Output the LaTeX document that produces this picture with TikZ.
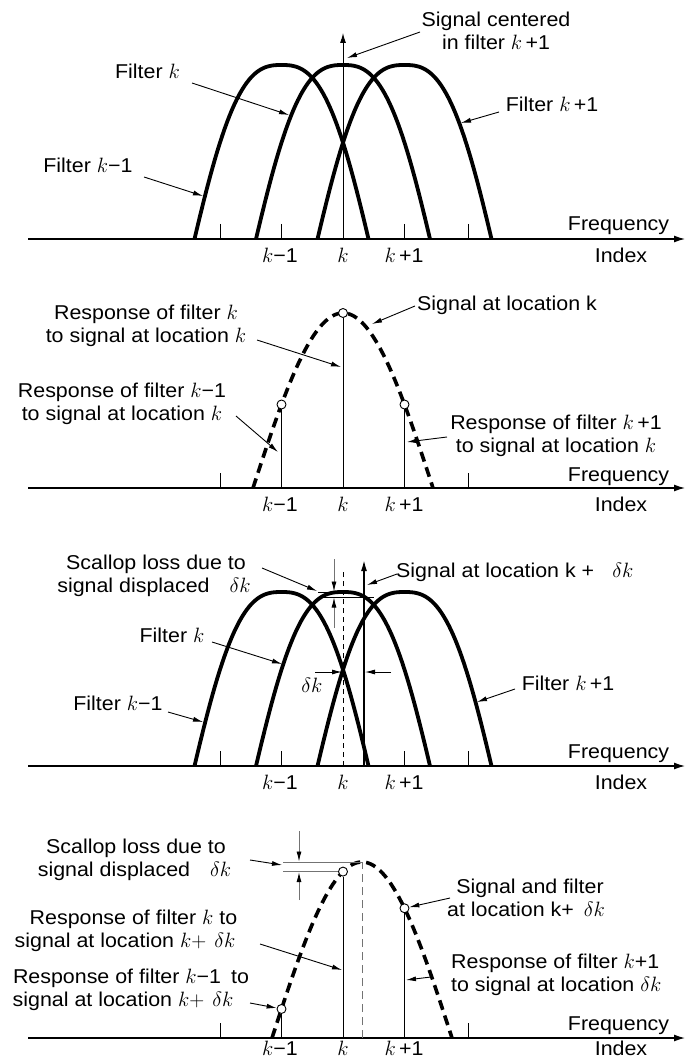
\documentclass[tikz,border=0pt]{standalone}
\usepackage{fontspec}
\setmainfont{Liberation Sans}[FakeStretch=1.07]
\usetikzlibrary{arrows.meta}
\newcommand\filtcurve[2]{\draw[filt] plot[domain=-87:87,samples=101] ({#1+\x},{#2-174*cos(90*((abs(\x)+0.001)/87)^1.35)});}
\begin{document}
\begin{tikzpicture}[x=1pt,y=-1pt,
  font=\fontsize{20}{23}\selectfont,
  filt/.style={line width=3.8pt,line join=round},
  resp/.style={line width=3.6pt,dash pattern=on 10pt off 6pt},
  axisline/.style={line width=1.3pt,-{Latex[length=11pt,width=7pt]}},
  lead/.style={line width=0.9pt,-{Latex[length=10pt,width=5pt]}},
  graylead/.style={line width=0.9pt,draw=black!55,-{Latex[length=10pt,width=5pt,color=black]}},
  thinline/.style={line width=1pt},
  tickline/.style={line width=1pt},
  dot/.style={circle,draw,fill=white,inner sep=0pt,minimum size=9pt,line width=0.9pt},
  lbl/.style={anchor=base,inner sep=0pt},
  lblw/.style={anchor=base west,inner sep=0pt}]
\useasboundingbox (0,0) rectangle (686,1059);

% ================= Panel 1 =================
\coordinate (a1s) at (28,239); \coordinate (a1e) at (685,239);
\draw[axisline] (a1s) -- (a1e);
\foreach \t in {220,281.5,404.5,468} \draw[tickline] (\t,224) -- (\t,239);
\filtcurve{281.5}{239}
\filtcurve{343}{239}
\filtcurve{404.5}{239}
\coordinate (s1b) at (343,239); \coordinate (s1t) at (343,33);
\draw[thinline,-{Latex[length=10pt,width=6pt]}] (s1b) -- (s1t);
\node[lbl] (p1km) at (280,262) {$k$−1};
\node[lbl] (p1k) at (343,262) {$k$};
\node[lbl] (p1kp) at (404,262) {$k$\,+1};
\node[lbl] (p1f) at (618.5,231) {Frequency};
\node[lbl] (p1i) at (621,262) {Index};
\node[lbl] (p1sc1) at (496,27) {Signal centered};
\node[lbl] (p1sc2) at (496,50) {in filter $k$\,+1};
\node[lbl] (p1fk) at (147.5,79) {Filter $k$};
\node[lbl] (p1fkp) at (552,112) {Filter $k$\,+1};
\node[lbl] (p1fkm) at (88,173) {Filter $k$−1};
\coordinate (p1a1s) at (420,32); \coordinate (p1a1e) at (347,58);
\coordinate (p1a2s) at (192,83); \coordinate (p1a2e) at (289,115);
\coordinate (p1a3s) at (499,112); \coordinate (p1a3e) at (461,123);
\coordinate (p1a4s) at (144,177); \coordinate (p1a4e) at (203,196);
\draw[lead] (p1a1s) -- (p1a1e);
\draw[lead] (p1a2s) -- (p1a2e);
\draw[lead] (p1a3s) -- (p1a3e);
\draw[lead] (p1a4s) -- (p1a4e);

% ================= Panel 2 =================
\coordinate (a2s) at (28,488); \coordinate (a2e) at (685,488);
\draw[axisline] (a2s) -- (a2e);
\foreach \t in {220,468} \draw[tickline] (\t,473) -- (\t,488);
\draw[resp] plot[domain=-90:90,samples=90] ({343+\x},{488-175*cos(\x)});
\node[dot] (c2l) at (281.5,{488-175*cos(61.5)}) {};
\node[dot] (c2m) at (343,313) {};
\node[dot] (c2r) at (404.5,{488-175*cos(61.5)}) {};
\draw[thinline] (c2l.south) -- (281.5,488);
\draw[thinline] (c2m.south) -- (343,488);
\draw[thinline] (c2r.south) -- (404.5,488);
\node[lbl] (p2km) at (280,511) {$k$−1};
\node[lbl] (p2k) at (343,511) {$k$};
\node[lbl] (p2kp) at (404,511) {$k$\,+1};
\node[lbl] (p2f) at (618.5,481) {Frequency};
\node[lbl] (p2i) at (621,511) {Index};
\node[lblw] (p2sig) at (417,310) {Signal at location k};
\node[lbl] (p2r1) at (146,319) {Response of filter $k$};
\node[lbl] (p2r2) at (146,342) {to signal at location $k$};
\node[lbl] (p2m1) at (122,397) {Response of filter $k$−1};
\node[lbl] (p2m2) at (122,420) {to signal at location $k$};
\node[lbl] (p2p1) at (556,429) {Response of filter $k$\,+1};
\node[lbl] (p2p2) at (556,452) {to signal at location $k$};
\coordinate (p2a1s) at (415,306); \coordinate (p2a1e) at (372,324);
\coordinate (p2a2s) at (257,340); \coordinate (p2a2e) at (341,367);
\coordinate (p2a3s) at (236,416); \coordinate (p2a3e) at (278,452);
\coordinate (p2a4s) at (447,437); \coordinate (p2a4e) at (407,442);
\draw[lead] (p2a1s) -- (p2a1e);
\draw[lead] (p2a2s) -- (p2a2e);
\draw[lead] (p2a3s) -- (p2a3e);
\draw[lead] (p2a4s) -- (p2a4e);

% ================= Panel 3 =================
\coordinate (a3s) at (28,766); \coordinate (a3e) at (685,766);
\draw[axisline] (a3s) -- (a3e);
\foreach \t in {220,281.5,404.5,468} \draw[tickline] (\t,751) -- (\t,766);
\filtcurve{281.5}{766}
\filtcurve{343}{766}
\filtcurve{404.5}{766}
\coordinate (d3b) at (343,766); \coordinate (d3t) at (343,572);
\draw[line width=0.9pt,dash pattern=on 5pt off 4pt] (d3b) -- (d3t);
\coordinate (s3b) at (364,766); \coordinate (s3t) at (364,560);
\draw[line width=1.6pt,-{Latex[length=11pt,width=6pt]}] (s3b) -- (s3t);
\draw[line width=0.8pt] (318,592) -- (352,592);
\draw[line width=0.8pt] (318,597) -- (374,597);
\coordinate (v3a) at (334,559); \coordinate (v3b) at (334,591.5);
\coordinate (v3c) at (334,628); \coordinate (v3d) at (334,597.5);
\draw[graylead] (v3a) -- (v3b);
\draw[graylead] (v3c) -- (v3d);
\coordinate (h3a) at (315,672); \coordinate (h3b) at (342,672);
\coordinate (h3c) at (391,672); \coordinate (h3d) at (365,672);
\draw[lead] (h3a) -- (h3b);
\draw[lead] (h3c) -- (h3d);
\node[lbl] (p3dk) at (312,692) {$\delta k$};
\node[lbl] (p3km) at (280,789) {$k$−1};
\node[lbl] (p3k) at (343,789) {$k$};
\node[lbl] (p3kp) at (404,789) {$k$\,+1};
\node[lbl] (p3f) at (618.5,758) {Frequency};
\node[lbl] (p3i) at (621,789) {Index};
\node[lbl] (p3s1) at (156,569) {Scallop loss due to};
\node[lbl] (p3s2) at (154,592) {signal displaced\hspace{20pt}$\delta k$};
\node[lblw] (p3sig) at (396,577) {Signal at location k +\hspace{18pt}$\delta k$};
\node[lbl] (p3fk) at (172,642) {Filter $k$};
\node[lbl] (p3fkp) at (568,690) {Filter $k$\,+1};
\node[lbl] (p3fkm) at (118,710) {Filter $k$−1};
\coordinate (p3a1s) at (262,568); \coordinate (p3a1e) at (317,591);
\coordinate (p3a2s) at (397,574); \coordinate (p3a2e) at (367,585);
\coordinate (p3a3s) at (212,642); \coordinate (p3a3e) at (282,664);
\coordinate (p3a4s) at (515,689); \coordinate (p3a4e) at (477,702);
\coordinate (p3a5s) at (168,712); \coordinate (p3a5e) at (203,722);
\draw[lead] (p3a1s) -- (p3a1e);
\draw[lead] (p3a2s) -- (p3a2e);
\draw[lead] (p3a3s) -- (p3a3e);
\draw[lead] (p3a4s) -- (p3a4e);
\draw[lead] (p3a5s) -- (p3a5e);

% ================= Panel 4 =================
\coordinate (a4s) at (28,1038); \coordinate (a4e) at (685,1038);
\draw[axisline] (a4s) -- (a4e);
\foreach \t in {220,468} \draw[tickline] (\t,1023) -- (\t,1038);
\draw[resp] plot[domain=-90:90,samples=90] ({362+\x},{1038-176*cos(\x)});
\coordinate (d4b) at (362,1038); \coordinate (d4t) at (362,862);
\draw[line width=1pt,draw=black!55,dash pattern=on 8pt off 5pt] (d4b) -- (d4t);
\node[dot] (c4l) at (281.5,{1038-176*cos(80.5)}) {};
\node[dot] (c4m) at (343,{1038-176*cos(19)}) {};
\node[dot] (c4r) at (404.5,{1038-176*cos(42.5)}) {};
\draw[thinline] (c4l.south) -- (281.5,1038);
\draw[thinline] (c4m.south) -- (343,1038);
\draw[thinline] (c4r.south) -- (404.5,1038);
\draw[line width=1pt,draw=black!55] (283,862) -- (362,862);
\draw[line width=1pt,draw=black!55] (283,{1038-176*cos(19)}) -- (c4m.west);
\coordinate (v4a) at (299,831); \coordinate (v4b) at (299,861.5);
\coordinate (v4c) at (299,900); \coordinate (v4d) at (299,{1038.5-176*cos(19)});
\draw[graylead] (v4a) -- (v4b);
\draw[graylead] (v4c) -- (v4d);
\node[lbl] (p4km) at (280,1055) {$k$−1};
\node[lbl] (p4k) at (343,1055) {$k$};
\node[lbl] (p4kp) at (404,1055) {$k$\,+1};
\node[lbl] (p4f) at (618.5,1030) {Frequency};
\node[lbl] (p4i) at (621,1055) {Index};
\node[lbl] (p4s1) at (136,853) {Scallop loss due to};
\node[lbl] (p4s2) at (134.5,876) {signal displaced\hspace{20pt}$\delta k$};
\node[lbl] (p4sf1) at (530,893) {Signal and filter};
\node[lbl] (p4sf2) at (526,916) {at location k+\hspace{10pt}$\delta k$};
\node[lbl] (p4r1) at (133.5,924) {Response of filter $k$ to};
\node[lbl] (p4r2) at (125,947) {signal at location $k+$\hspace{8pt}$\delta k$};
\node[lbl] (p4m1) at (131,983) {Response of filter $k$−1\hspace{10pt}to};
\node[lbl] (p4m2) at (123,1006) {signal at location $k+$\hspace{8pt}$\delta k$};
\node[lblw] (p4p1) at (451,968) {Response of filter $k$+1};
\node[lblw] (p4p2) at (451,991) {to signal at location $\delta k$};
\coordinate (p4a1s) at (250,860); \coordinate (p4a1e) at (282,865);
\coordinate (p4a2s) at (450,898);
\coordinate (p4a3s) at (260,944); \coordinate (p4a3e) at (342,970);
\coordinate (p4a4s) at (250,1003);
\coordinate (p4a5s) at (431,977); \coordinate (p4a5e) at (406,980);
\draw[lead] (p4a1s) -- (p4a1e);
\draw[lead] (p4a2s) -- (c4r);
\draw[lead] (p4a3s) -- (p4a3e);
\draw[lead] (p4a4s) -- (c4l);
\draw[lead] (p4a5s) -- (p4a5e);
\end{tikzpicture}
\end{document}
